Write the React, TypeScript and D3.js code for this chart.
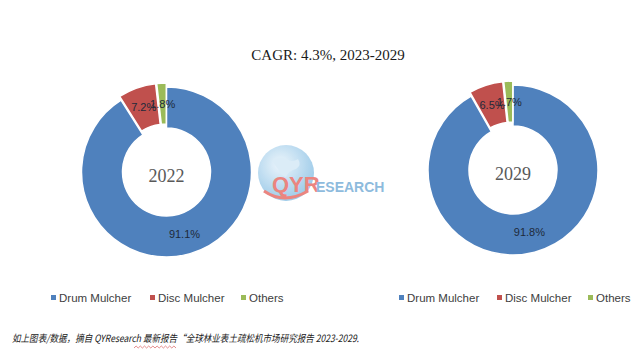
import * as d3 from 'd3';

const categories = ['Drum Mulcher', 'Disc Mulcher', 'Others'];
const years = ['2022', '2029'];
const share2022 = [91.1, 7.2, 1.8];
const share2029 = [91.8, 6.5, 1.7];
const colors = ['#4f81bd', '#c0504d', '#9bbb59'];

const title = 'CAGR: 4.3%, 2023-2029';
const footnote = '如上图表/数据，摘自 QYResearch 最新报告“全球林业表土疏松机市场研究报告 2023-2029.';

const W = 640;
const H = 353;

interface DonutProps {
  values: number[];
  year: string;
  cx: number;
  cy: number;
  legendX: number[];
}

function Donut({ values, year, cx, cy, legendX }: DonutProps) {
  const outer = 85;
  const inner = 44;
  const explode = 4;
  const pie = d3.pie<number>().value(d => d).sort(null);
  const arc = d3.arc<d3.PieArcDatum<number>>().innerRadius(inner).outerRadius(outer);
  const labelArc = d3.arc<d3.PieArcDatum<number>>()
    .innerRadius((inner + outer) / 2)
    .outerRadius((inner + outer) / 2);
  const arcs = pie(values);

  return (
    <g>
      <g transform={`translate(${cx},${cy})`}>
        {arcs.map((a, i) => {
          const mid = (a.startAngle + a.endAngle) / 2;
          // small slices are pulled out a bit, like the source
          const off = i === 0 ? 0 : explode;
          const dx = Math.sin(mid) * off;
          const dy = -Math.cos(mid) * off;
          return (
            <path
              key={i}
              d={arc(a) || ''}
              transform={`translate(${dx},${dy})`}
              fill={colors[i]}
              stroke="#fff"
              strokeWidth={1.5}
            />
          );
        })}
        {arcs.map((a, i) => {
          const mid = (a.startAngle + a.endAngle) / 2;
          const off = i === 0 ? 0 : explode;
          const [lx, ly] = labelArc.centroid(a);
          return (
            <text
              key={i}
              x={lx + Math.sin(mid) * off}
              y={ly - Math.cos(mid) * off}
              textAnchor="middle"
              dominantBaseline="central"
              fontFamily="'Liberation Sans', Arial, sans-serif"
              fontSize={11}
              fill="#1e2a3a"
            >
              {`${a.data.toFixed(1)}%`}
            </text>
          );
        })}
        <text
          y={4}
          textAnchor="middle"
          dominantBaseline="central"
          fontFamily="'Liberation Serif', serif"
          fontSize={18}
          fill="#595959"
        >
          {year}
        </text>
      </g>
      {categories.map((c, i) => (
        <g key={c} transform={`translate(${legendX[i]},298)`}>
          <rect x={-3} y={-3} width={5} height={5} fill={colors[i]} />
          <text
            x={5}
            dominantBaseline="central"
            fontFamily="'Liberation Sans', Arial, sans-serif"
            fontSize={11.5}
            fill="#404040"
          >
            {c}
          </text>
        </g>
      ))}
    </g>
  );
}

function Logo({ x, y }: { x: number; y: number }) {
  return (
    <g transform={`translate(${x},${y})`} opacity={0.85}>
      <defs>
        <radialGradient id="globe" cx="40%" cy="35%" r="65%">
          <stop offset="0%" stopColor="#eaf4fb" />
          <stop offset="100%" stopColor="#8ec3e6" />
        </radialGradient>
      </defs>
      <circle cx={0} cy={0} r={28} fill="url(#globe)" />
      <path d="M-14,-12 q8,-6 14,-2 q6,4 12,0 q4,6 -2,10 q-8,2 -10,8 q-6,-2 -8,-8 z" fill="#d5e9f6" />
      <path d="M-22,18 q20,14 44,0" fill="none" stroke="#e8706a" strokeWidth={3} />
      <text x={-14} y={19} fontFamily="'Liberation Sans', Arial, sans-serif" fontWeight="bold" fontSize={22} fill="#e8706a">QYR</text>
      <text x={30} y={19} fontFamily="'Liberation Sans', Arial, sans-serif" fontWeight="bold" fontSize={14} fill="#7ab0d8">ESEARCH</text>
    </g>
  );
}

export default function App() {
  return (
    <svg
      width={W}
      height={H}
      style={{ position: 'absolute', left: 0, top: 0, background: '#fff' }}
    >
      <rect width={W} height={H} fill="#fff" />
      <text
        x={328}
        y={60}
        textAnchor="middle"
        fontFamily="'Liberation Serif', serif"
        fontSize={15}
        fill="#1a1a1a"
      >
        {title}
      </text>
      <Donut values={share2022} year={years[0]} cx={166.5} cy={172} legendX={[54, 153, 244]} />
      <Donut values={share2029} year={years[1]} cx={513} cy={170} legendX={[402, 500, 591]} />
      <Logo x={286} y={173} />
      <text
        x={12}
        y={342}
        fontFamily="'Noto Sans CJK SC', sans-serif"
        fontStyle="italic"
        fontSize={10}
        fill="#1a1a1a"
        textLength={347}
        lengthAdjust="spacingAndGlyphs"
      >
        {footnote}
      </text>
      <path
        d={d3.range(0, 21).map(i => `${i === 0 ? 'M' : 'L'}${134 + i * 2.1},${i % 2 ? 346 : 348}`).join('')}
        fill="none"
        stroke="#d04040"
        strokeWidth={0.6}
      />
    </svg>
  );
}
